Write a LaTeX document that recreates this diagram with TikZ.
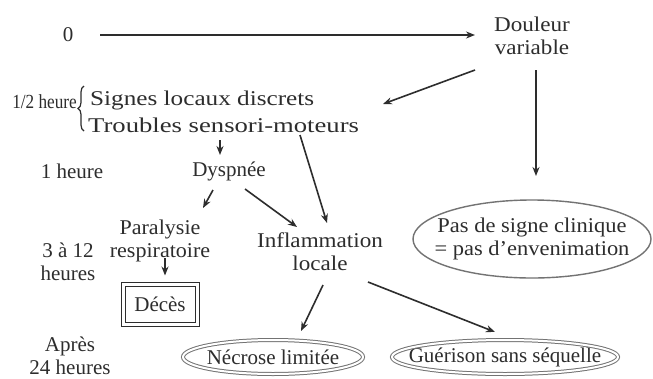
\documentclass[tikz,border=0pt]{standalone}
\usepackage{fontspec}
\usepackage{graphicx}
\setmainfont{Liberation Serif}
\usetikzlibrary{calc,arrows.meta,decorations.pathreplacing}
\definecolor{ink}{RGB}{45,45,45}
\definecolor{rim}{RGB}{115,115,115}
\newcommand{\wide}[2]{\scalebox{#1}[1]{#2}}
\begin{document}
\begin{tikzpicture}[x=1pt,y=-1pt,
  lbl/.style={font=\fontsize{21}{23}\selectfont, text=ink, inner sep=0pt, align=center},
  link/.style={draw=ink, line width=1.6pt, -{Stealth[length=9pt,width=7pt]}},
  oval/.style={draw=rim, line width=1.4pt},
  twin/.style={draw=rim, line width=1pt, double=white, double distance=2pt},
]
\useasboundingbox (0,0) rectangle (653,378);
\fill[white] (0,0) rectangle (653,378);

% time scale on the left
\node[lbl] (t0) at (68,35) {0};
\node[lbl, anchor=east, font=\fontsize{20}{22}\selectfont] (th) at (77,102) {\wide{0.86}{1/2 heure}};
\node[lbl] (h1) at (72,171) {1 heure};
\node[lbl] (h3) at (68,262) {3 à 12\\heures};
\node[lbl] (apres) at (70,356) {Après\\24 heures};

% events
\node[lbl] (doul) at (532,36) {\wide{1.1}{Douleur}\\\wide{1.1}{variable}};
\node[lbl, anchor=west] (sig1) at (90,100) {\wide{1.2}{Signes locaux discrets}};
\node[lbl, anchor=west] (sig2) at (88,125) {\wide{1.27}{Troubles sensori-moteurs}};
\draw[ink, line width=1.2pt, decorate, decoration={brace, amplitude=6pt}] (84,131) -- (84,86);
\node[lbl] (dysp) at (229,171) {Dyspnée};
\node[lbl] (para) at (160,241) {\wide{1.05}{Paralysie}\\\wide{1.05}{respiratoire}};
\node[lbl] (infl) at (320,252) {\wide{1.1}{Inflammation}\\\wide{1.1}{locale}};
\node[lbl, draw=ink, line width=1pt, double=white, double distance=3pt,
      minimum width=74, minimum height=40] (deces) at (160,304) {Décès};
\node[lbl] (pas) at (532,239)
      {\wide{1.07}{Pas de signe clinique}\\\wide{1.07}{= pas d'envenimation}};
\draw[oval] (pas) ellipse [x radius=119, y radius=39];
\node[lbl] (necr) at (273,357) {Nécrose limitée};
\draw[twin] (necr) ellipse [x radius=90, y radius=17];
\node[lbl] (guer) at (505,357) {Guérison sans séquelle};
\draw[twin] (guer) ellipse [x radius=113, y radius=17];

% connectors
\draw[link, line width=2.6pt] ($(t0)+(32,0)$) -- ($(doul)+(-57,-1)$);
\draw[link] ($(doul)+(-57,34)$) -- ($(sig1.west)+(293,4)$);
\draw[link] ($(doul)+(4,34)$) -- ($(pas)+(4,-63)$);
\draw[link] ($(sig2.west)+(132,15)$) -- ($(dysp)+(-9,-16)$);
\draw[link] ($(dysp)+(-16,19)$) -- ($(para)+(43,-33)$);
\draw[link] ($(dysp)+(16,18)$) -- ($(infl)+(-23,-25)$);
\draw[link] ($(sig2.west)+(212,10)$) -- ($(infl)+(7,-29)$);
\draw[link] ($(para)+(5,17)$) -- ($(deces.north)+(5,-8)$);
\draw[link] ($(infl)+(3,33)$) -- ($(necr)+(28,-26)$);
\draw[link] ($(infl)+(48,30)$) -- ($(guer)+(-10,-25)$);
\end{tikzpicture}
\end{document}
